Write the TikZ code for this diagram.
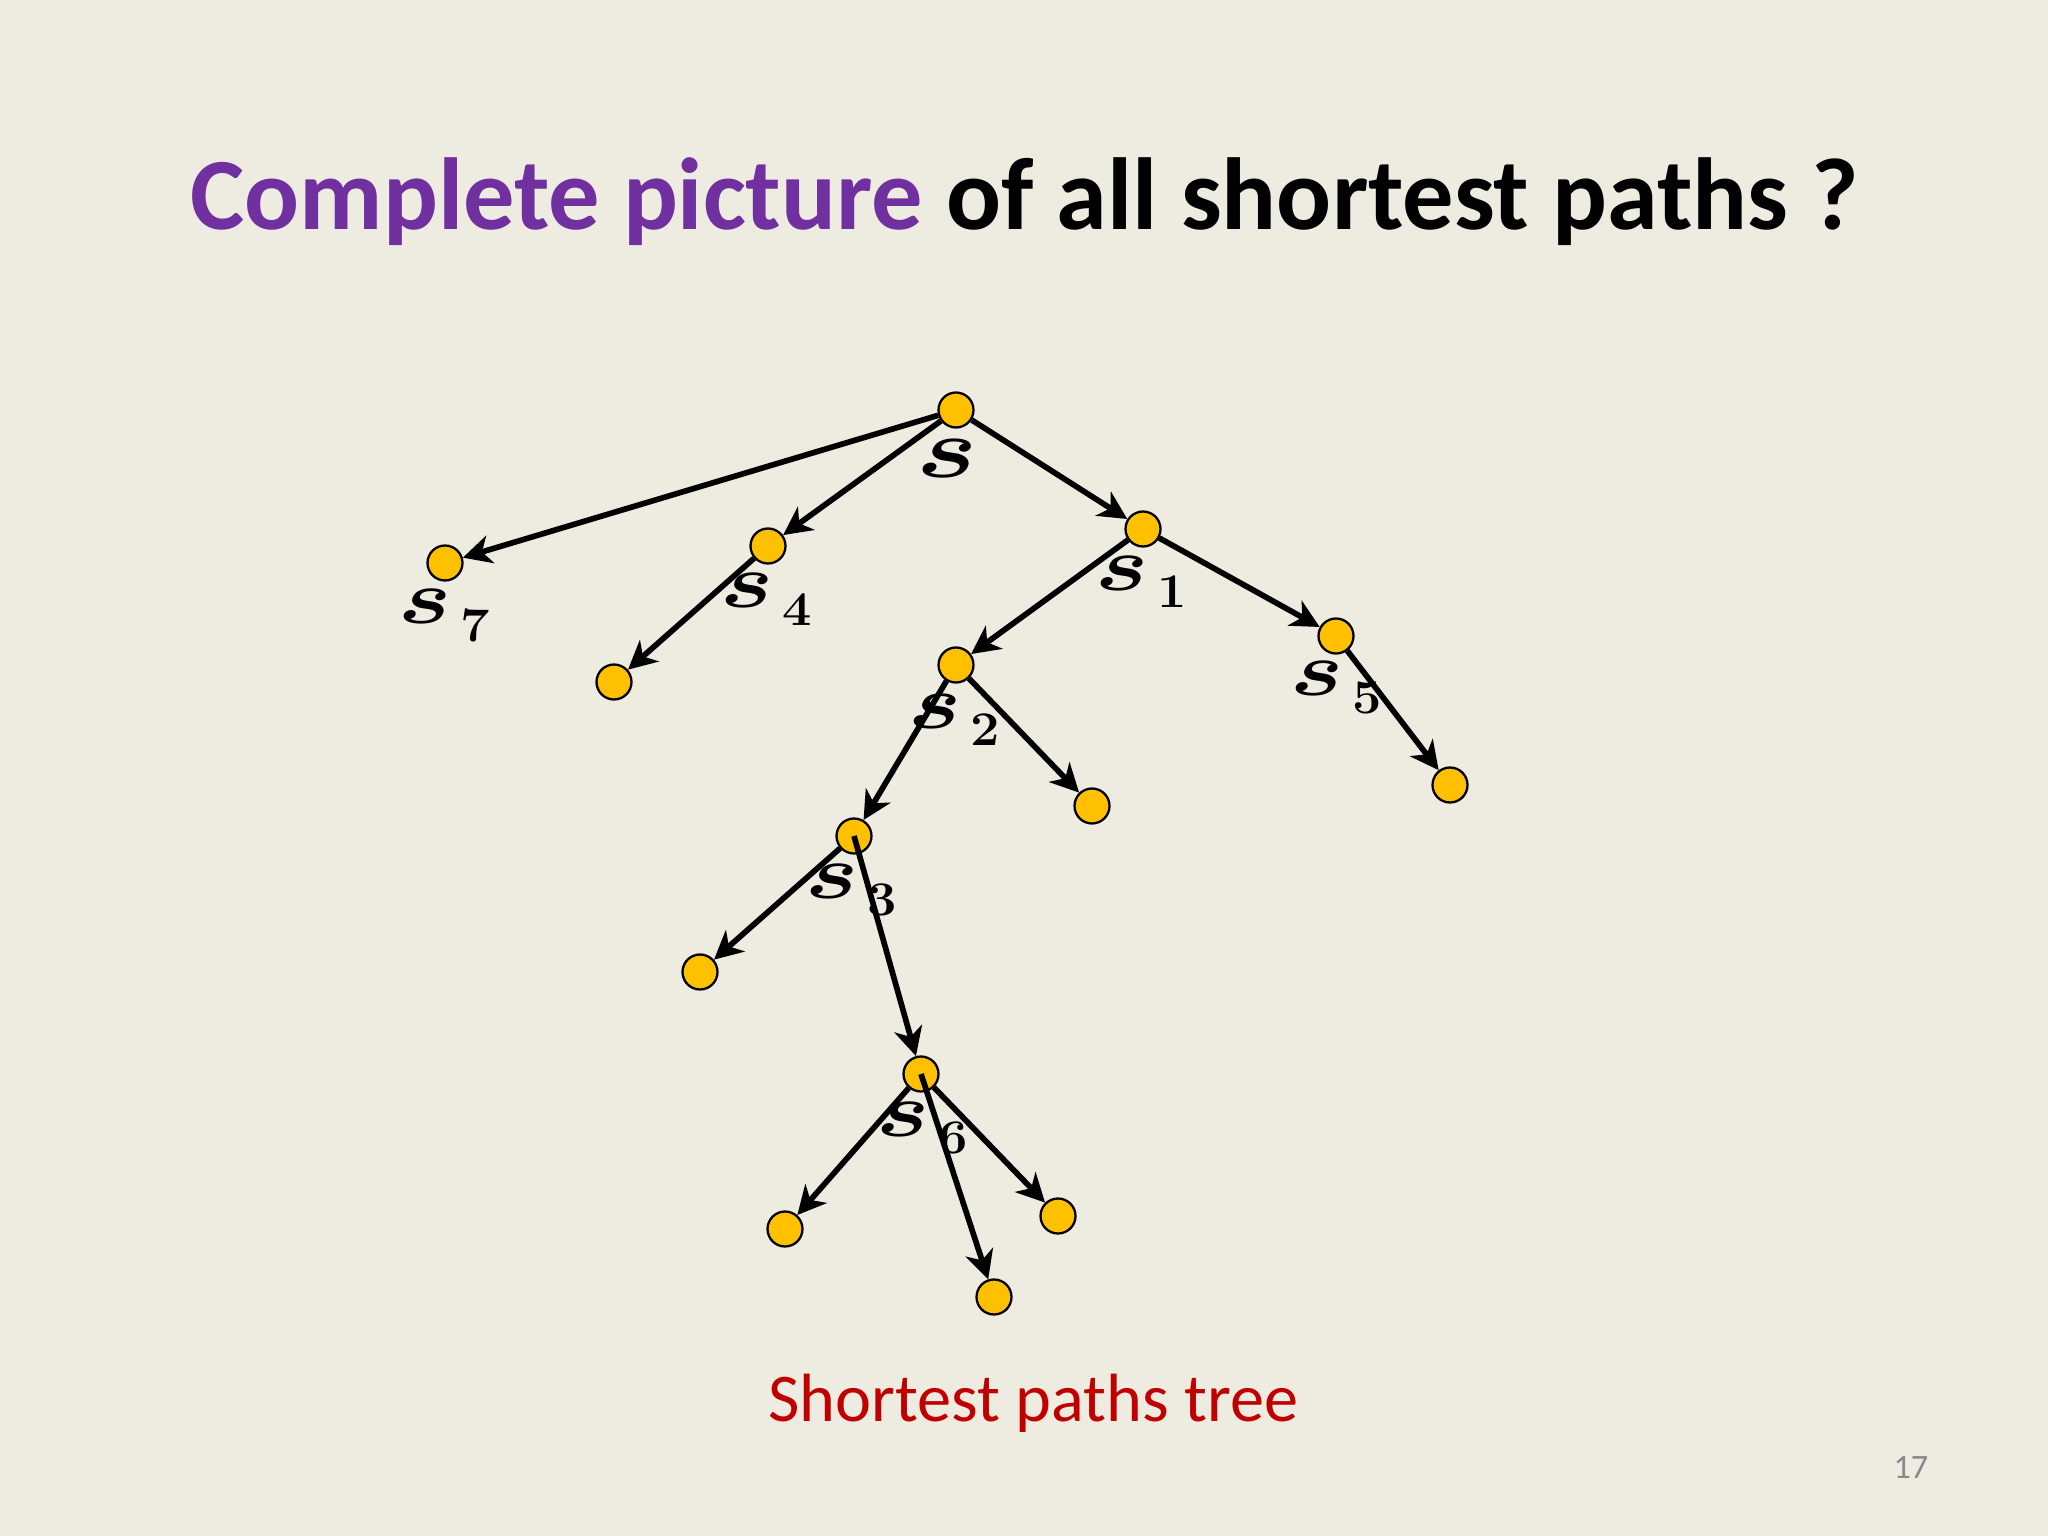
\RequirePackage{fix-cm}
\documentclass[tikz,border=0pt]{standalone}
\usepackage{amsmath}
\usepackage{graphicx}
\usepackage[no-math]{fontspec}
\setmainfont{Carlito}
\usetikzlibrary{arrows.meta}
\definecolor{bgc}{HTML}{EEECE1}
\definecolor{titlepurple}{HTML}{7030A0}
\definecolor{capred}{HTML}{C00000}
\definecolor{pnum}{HTML}{898989}
\definecolor{nodefill}{HTML}{FFC000}
\newcommand{\slab}[1]{\rlap{\scalebox{1.3}[1]{\fontsize{27}{27}\selectfont$\boldsymbol{s}$}}\hspace{21.8pt}\raisebox{-6pt}{\scalebox{1.08}[1]{\fontsize{17}{17}\selectfont$\mathbf{#1}$}}}
\tikzset{
  vert/.style={circle, draw=black, line width=0.8pt, fill=nodefill, minimum size=12.3pt, inner sep=0pt},
  edge/.style={line width=2pt, -{Stealth[length=10pt,width=10pt,inset=3pt]}},
  lab/.style={inner sep=0pt, anchor=base west}
}
\begin{document}
\begin{tikzpicture}[x=0.3515625pt, y=-0.3515625pt]
\fill[bgc] (0,0) rectangle (2048,1536);
\useasboundingbox (0,0) rectangle (2048,1536);
% title
\node[inner sep=0pt, anchor=base west] (title) at (190,230)
  {\fontsize{36}{42}\selectfont\bfseries\textcolor{titlepurple}{Complete picture} of all shortest paths ?};
% vertices
\node[vert] (s)  at (956,410) {};
\node[vert] (s7) at (445,563) {};
\node[vert] (s4) at (768,546) {};
\node[vert] (s1) at (1143,529) {};
\node[vert] (c4) at (614,682) {};
\node[vert] (s2) at (956,665) {};
\node[vert] (s5) at (1336,636) {};
\node[vert] (c5) at (1450,785) {};
\node[vert] (c2) at (1092,806) {};
\node[vert] (s3) at (854,836) {};
\node[vert] (c3) at (700,972) {};
\node[vert] (s6) at (921,1074) {};
\node[vert] (c6a) at (785,1229) {};
\node[vert] (c6b) at (994,1297) {};
\node[vert] (c6c) at (1058,1216) {};
% labels
\node[lab] (ls) at (916,478) {\scalebox{1.35}[1]{\fontsize{30}{30}\selectfont$\boldsymbol{s}$}};
\node[lab] (ls7) at (398,624) {\slab{7}};
\node[lab] (ls4) at (720,608) {\slab{4}};
\node[lab] (ls1) at (1095,590) {\slab{1}};
\node[lab] (ls2) at (908,728) {\slab{2}};
\node[lab] (ls5) at (1290,696) {\slab{5}};
\node[lab] (ls3) at (805,898) {\slab{3}};
\node[lab] (ls6) at (876,1136) {\slab{6}};
% edges
\draw[edge] (s) -- (s7);
\draw[edge] (s) -- (s4);
\draw[edge] (s) -- (s1);
\draw[edge] (s4) -- (c4);
\draw[edge] (s1) -- (s2);
\draw[edge] (s1) -- (s5);
\draw[edge] (s2) -- (s3);
\draw[edge] (s2) -- (c2);
\draw[edge] (s5) -- (c5);
\draw[edge] (s3) -- (c3);
\draw[edge] (s3.center) -- (s6);
\draw[edge] (s6) -- (c6a);
\draw[edge] (s6.center) -- (c6b);
\draw[edge] (s6) -- (c6c);
% caption
\node[inner sep=0pt, anchor=base west, text=capred] (cap) at (768,1421)
  {\fontsize{24}{28}\selectfont Shortest paths tree};
\node[inner sep=0pt, anchor=base west, text=pnum] (pn) at (1893,1478)
  {\fontsize{12}{14}\selectfont 17};
\end{tikzpicture}
\end{document}
